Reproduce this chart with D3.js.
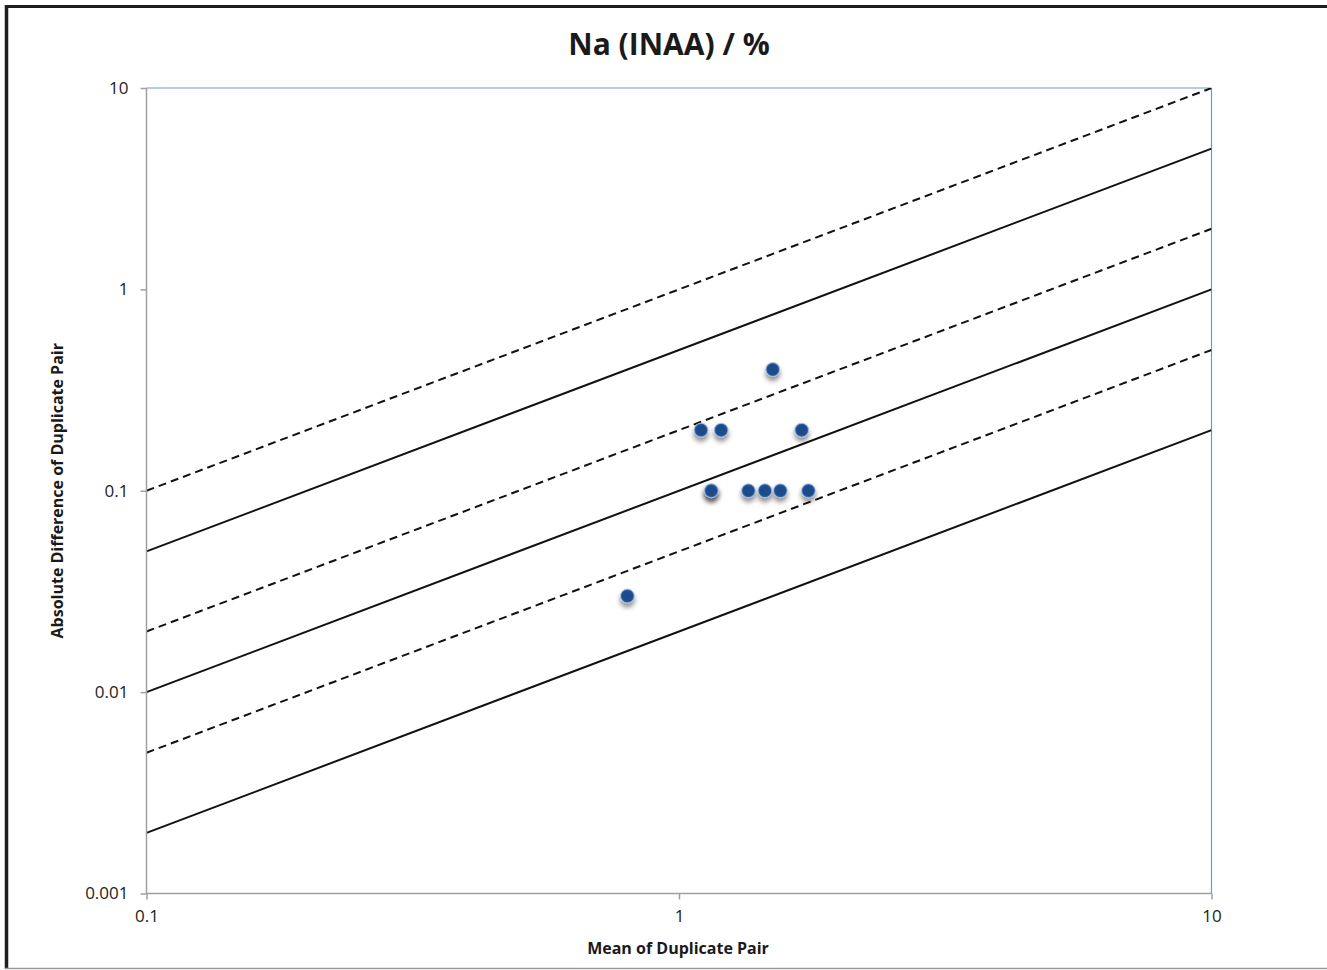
<!DOCTYPE html>
<html>
<head>
<meta charset="utf-8">
<script src="https://cdn.jsdelivr.net/npm/d3@7"></script>
<style>
  html, body { margin: 0; padding: 0; background: #fff; }
  svg { display: block; }
  text { font-family: "Open Sans", "Noto Sans", sans-serif; }
</style>
</head>
<body>
<script>
// ---- data ----
const meanValues = [0.8, 1.1, 1.15, 1.15, 1.2, 1.35, 1.45, 1.5, 1.55, 1.7, 1.75];
const diffValues = [0.03, 0.2, 0.1, 0.1, 0.2, 0.1, 0.1, 0.4, 0.1, 0.2, 0.1];
const solidRatios = [0.5, 0.1, 0.02];
const dashedRatios = [1, 0.2, 0.05];
const xTickValues = [0.1, 1, 10];
const yTickValues = [0.001, 0.01, 0.1, 1, 10];
const xDomain = [0.1, 10];
const yDomain = [0.001, 10];
const titleText = "Na (INAA) / %";
const xLabelText = "Mean of Duplicate Pair";
const yLabelText = "Absolute Difference of Duplicate Pair";

const W = 1327, H = 970;
const plot = { left: 146.5, right: 1211.5, top: 88, bottom: 893.5 };

const svg = d3.select("body").append("svg").attr("width", W).attr("height", H);

const defs = svg.append("defs");
const f = defs.append("filter").attr("id", "shadow")
  .attr("x", "-80%").attr("y", "-80%").attr("width", "260%").attr("height", "280%");
f.append("feDropShadow").attr("dx", 0).attr("dy", 4).attr("stdDeviation", 2.5)
  .attr("flood-color", "#000").attr("flood-opacity", 0.45);
const g = defs.append("radialGradient").attr("id", "dotgrad")
  .attr("cx", "50%").attr("cy", "50%").attr("r", "50%");
g.append("stop").attr("offset", "0%").attr("stop-color", "#1b4a8a");
g.append("stop").attr("offset", "75%").attr("stop-color", "#1d4d8e");
g.append("stop").attr("offset", "100%").attr("stop-color", "#5d86c2");
defs.append("clipPath").attr("id", "plotclip").append("rect")
  .attr("x", plot.left).attr("y", plot.top)
  .attr("width", plot.right - plot.left).attr("height", plot.bottom - plot.top);

const x = d3.scaleLog().domain(xDomain).range([plot.left, plot.right]);
const y = d3.scaleLog().domain(yDomain).range([plot.bottom, plot.top]);

// outer frame
svg.append("line").attr("x1", 5).attr("x2", W).attr("y1", 6.5).attr("y2", 6.5)
  .attr("stroke", "#1e1e1e").attr("stroke-width", 3);
svg.append("line").attr("x1", 6.5).attr("x2", 6.5).attr("y1", 5).attr("y2", 969)
  .attr("stroke", "#1e1e1e").attr("stroke-width", 3.5);
svg.append("line").attr("x1", 5).attr("x2", W).attr("y1", 968.5).attr("y2", 968.5)
  .attr("stroke", "#9a9a9a").attr("stroke-width", 1.5);

// title
svg.append("text").attr("x", 669).attr("y", 55).attr("text-anchor", "middle")
  .attr("font-size", 30).attr("font-weight", "bold").attr("fill", "#1a1a1a")
  .text(titleText);

// plot frame: top & right blue
svg.append("line").attr("x1", plot.left).attr("x2", plot.right).attr("y1", plot.top).attr("y2", plot.top)
  .attr("stroke", "#6a9ad6").attr("stroke-width", 1.2);
svg.append("line").attr("x1", plot.right).attr("x2", plot.right).attr("y1", plot.top).attr("y2", plot.bottom)
  .attr("stroke", "#6a9ad6").attr("stroke-width", 1.2);

// reference lines
const lineGen = d3.line().x(d => x(d[0])).y(d => y(d[1]));
const lg = svg.append("g").attr("clip-path", "url(#plotclip)");
solidRatios.forEach(k => {
  lg.append("path").datum(xDomain.map(v => [v, v * k])).attr("d", lineGen)
    .attr("fill", "none").attr("stroke", "#111").attr("stroke-width", 2);
});
dashedRatios.forEach(k => {
  lg.append("path").datum(xDomain.map(v => [v, v * k])).attr("d", lineGen)
    .attr("fill", "none").attr("stroke", "#111").attr("stroke-width", 2)
    .attr("stroke-dasharray", "8,5");
});

// axes
const fmt = d => String(d);
const xAxis = svg.append("g").attr("transform", `translate(0,${plot.bottom})`)
  .call(d3.axisBottom(x).tickValues(xTickValues).tickFormat(fmt).tickSize(6).tickPadding(10));
const yAxis = svg.append("g").attr("transform", `translate(${plot.left},0)`)
  .call(d3.axisLeft(y).tickValues(yTickValues).tickFormat(fmt).tickSize(6).tickPadding(12));
[xAxis, yAxis].forEach(a => {
  a.select(".domain").attr("stroke", "#a0a0a0").attr("stroke-width", 1.5);
  a.selectAll(".tick line").attr("stroke", "#a0a0a0").attr("stroke-width", 1.5);
  a.selectAll(".tick text").attr("font-size", 17).attr("fill", "#222")
    .attr("font-family", "'Open Sans', sans-serif");
});
xAxis.select(".domain").attr("d", `M${plot.left},0H${plot.right}`);
yAxis.select(".domain").attr("d", `M0,${plot.bottom}V${plot.top}`);

// axis labels
svg.append("text").attr("x", 678).attr("y", 954).attr("text-anchor", "middle")
  .attr("font-size", 16).attr("font-weight", "bold").attr("fill", "#1a1a1a")
  .text(xLabelText);
svg.append("text").attr("transform", `translate(63,${(plot.top + plot.bottom) / 2}) rotate(-90)`)
  .attr("text-anchor", "middle")
  .attr("font-size", 16).attr("font-weight", "bold").attr("fill", "#1a1a1a")
  .text(yLabelText);

// points
const pts = meanValues.map((m, i) => ({ m, d: diffValues[i] }));
svg.append("g").selectAll("circle").data(pts).join("circle")
  .attr("cx", d => x(d.m)).attr("cy", d => y(d.d)).attr("r", 7)
  .attr("fill", "url(#dotgrad)")
  .attr("stroke", "#a9c2e6").attr("stroke-width", 0.8)
  .attr("filter", "url(#shadow)");
</script>
</body>
</html>
